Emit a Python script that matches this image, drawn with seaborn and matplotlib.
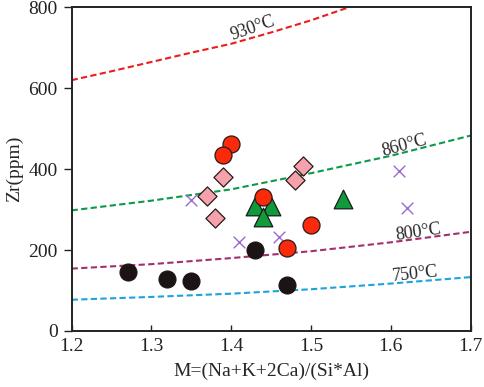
import numpy as np
import pandas as pd
import matplotlib
matplotlib.use("Agg")
import matplotlib.pyplot as plt
import seaborn as sns

# isotherm curves (M, Zr)
m_930 = [1.20, 1.25, 1.30, 1.35, 1.40, 1.45, 1.50, 1.55]
zr_930 = [620, 642, 665, 688, 710, 738, 768, 802]
m_iso = [1.20, 1.30, 1.40, 1.50, 1.60, 1.70]
zr_860 = [298, 322, 350, 390, 433, 483]
zr_800 = [154, 165, 180, 197, 219, 245]
zr_750 = [77, 84, 92, 103, 117, 133]

# samples
red_m = [1.40, 1.39, 1.44, 1.50, 1.47]
red_zr = [461, 434, 330, 263, 205]
pink_m = [1.39, 1.37, 1.38, 1.49, 1.48]
pink_zr = [381, 333, 278, 407, 374]
green_m = [1.43, 1.45, 1.44, 1.54]
green_zr = [308, 310, 282, 326]
purple_m = [1.35, 1.41, 1.46, 1.61, 1.62]
purple_zr = [323, 219, 232, 395, 304]
black_m = [1.27, 1.32, 1.35, 1.43, 1.47]
black_zr = [145, 128, 124, 201, 114]

sns.set_style("ticks")
plt.rcParams["font.family"] = "serif"
plt.rcParams["font.serif"] = ["Liberation Serif", "DejaVu Serif"]

fig = plt.figure(figsize=(4.84, 3.87), dpi=100)
ax = fig.add_axes([0.148, 0.145, 0.8245, 0.836])

# curves
curves = [(m_930, zr_930, "#ee1c1c"), (m_iso, zr_860, "#0c9a48"),
          (m_iso, zr_800, "#a3306e"), (m_iso, zr_750, "#1ba3dc")]
for mx, zy, c in curves:
    sns.lineplot(x=mx, y=zy, ax=ax, color=c, lw=1.5, dashes=False)
for ln in ax.get_lines():
    ln.set_linestyle((0, (3, 1.6)))

# labels on curves
ax.text(1.427, 748, "930°C", fontsize=13, rotation=19, ha="center", va="center")
ax.text(1.617, 458, "860°C", fontsize=13, rotation=15, ha="center", va="center")
ax.text(1.635, 244, "800°C", fontsize=13, rotation=8, ha="center", va="center")
ax.text(1.631, 140, "750°C", fontsize=13, rotation=6, ha="center", va="center")

# points
sns.scatterplot(x=purple_m, y=purple_zr, ax=ax, marker="x", s=70, color="#9a6ad0",
                linewidth=1.0, zorder=3)
sns.scatterplot(x=black_m, y=black_zr, ax=ax, marker="o", s=150, color="#1c1414",
                edgecolor="#1c1414", linewidth=0.8, zorder=4)
sns.scatterplot(x=pink_m, y=pink_zr, ax=ax, marker="D", s=95, color="#f6a2ac",
                edgecolor="#2a1a1a", linewidth=0.9, zorder=4)
sns.scatterplot(x=green_m, y=green_zr, ax=ax, marker="^", s=180, color="#109a3c",
                edgecolor="#1a1a1a", linewidth=0.9, zorder=5)
sns.scatterplot(x=red_m, y=red_zr, ax=ax, marker="o", s=150, color="#fa2a0a",
                edgecolor="#2a1a1a", linewidth=0.9, zorder=6)

ax.set_xlim(1.2, 1.7)
ax.set_ylim(0, 800)
ax.set_xticks([1.2, 1.3, 1.4, 1.5, 1.6, 1.7])
ax.set_xticklabels(["1.2", "1.3", "1.4", "1.5", "1.6", "1.7"])
ax.set_yticks([0, 200, 400, 600, 800])
ax.tick_params(axis="x", direction="in", length=4, width=1, labelsize=14, pad=5, colors="#222222")
ax.tick_params(axis="y", direction="out", length=6, width=1, labelsize=14, pad=4, colors="#222222")
for s in ax.spines.values():
    s.set_visible(True)
    s.set_linewidth(1.4)
    s.set_color("#222222")
ax.set_xlabel("M=(Na+K+2Ca)/(Si*Al)", fontsize=14, labelpad=6)
ax.set_ylabel("Zr(ppm)", fontsize=14, labelpad=4)

fig.savefig("out.png", dpi=100)
